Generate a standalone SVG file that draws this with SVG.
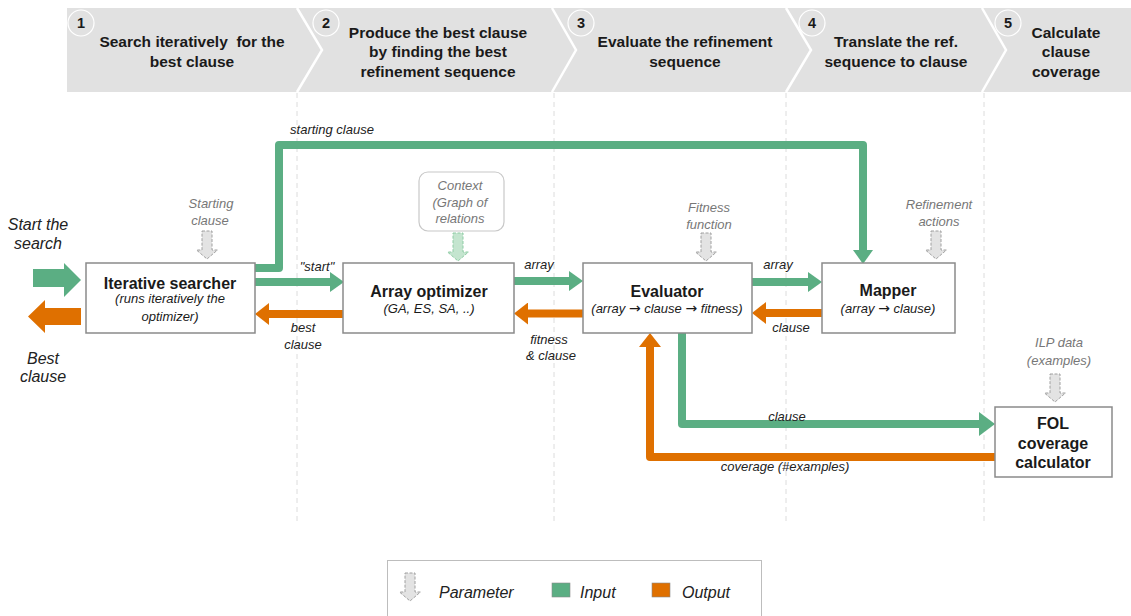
<svg xmlns="http://www.w3.org/2000/svg" width="1131" height="616" viewBox="0 0 1131 616">
  <style>
    text { font-family: "Liberation Sans", Arial, sans-serif; fill: #1a1a1a; }
    .hdr { font-size: 15.5px; font-weight: bold; text-anchor: middle; }
    .num { font-size: 14.5px; font-weight: bold; text-anchor: middle; }
    .title { font-size: 16px; font-weight: bold; text-anchor: middle; }
    .sub { font-size: 13px; font-style: italic; text-anchor: middle; }
    .arr { font-family: "DejaVu Sans", sans-serif; font-style: normal; font-size: 14px; }
    .lbl { font-size: 13px; font-style: italic; text-anchor: middle; fill: #222; }
    .param { font-size: 13px; font-style: italic; text-anchor: middle; fill: #777; }
    .big { font-size: 16px; font-style: italic; text-anchor: middle; fill: #222; }
    .leg { font-size: 16px; font-style: italic; fill: #222; }
    .box { fill: #fff; stroke: #8a8a8a; stroke-width: 1.5; }
    .in { fill: none; stroke: #5bae83; stroke-width: 8; stroke-linejoin: round; }
    .out { fill: none; stroke: #df7000; stroke-width: 8; stroke-linejoin: round; }
    .guide { stroke: #dcdcdc; stroke-width: 1; stroke-dasharray: 5 4; }
    .sep { fill: none; stroke: #fff; stroke-width: 2.5; }
    .circ { fill: none; stroke: #fff; stroke-width: 1.2; }
    .parg { fill: #e3e3e3; stroke: #a0a0a0; stroke-width: 1; stroke-dasharray: 3 1.5; }
  </style>
  <defs>
    <marker id="hIn" markerUnits="userSpaceOnUse" markerWidth="14" markerHeight="20" refX="0" refY="10" orient="auto">
      <path d="M0,0 L14,10 L0,20 Z" fill="#5bae83"/>
    </marker>
    <marker id="hInL" markerUnits="userSpaceOnUse" markerWidth="16" markerHeight="24" refX="0" refY="12" orient="auto">
      <path d="M0,0 L16,12 L0,24 Z" fill="#5bae83"/>
    </marker>
    <marker id="hOut" markerUnits="userSpaceOnUse" markerWidth="14" markerHeight="22" refX="0" refY="11" orient="auto">
      <path d="M0,0 L14,11 L0,22 Z" fill="#df7000"/>
    </marker>
    <!-- hollow down-arrow used for parameters -->
    <polygon id="paramArrow" points="-5,0 5,0 5,19 10.5,19 0,28 -10.5,19 -5,19"/>
  </defs>

  <!-- phase header band -->
  <g id="header">
    <rect x="67" y="8" width="1064" height="84" fill="#e1e1e1"/>
    <polyline class="sep" points="297,8 322,50 297,92"/>
    <polyline class="sep" points="552,8 576,50 552,92"/>
    <polyline class="sep" points="786,8 811,50 786,92"/>
    <polyline class="sep" points="982,8 1006,50 982,92"/>
    <circle class="circ" cx="81" cy="23" r="13"/>
    <circle class="circ" cx="326" cy="23" r="13"/>
    <circle class="circ" cx="581" cy="23" r="13"/>
    <circle class="circ" cx="812" cy="23" r="13"/>
    <circle class="circ" cx="1008" cy="23" r="13"/>
    <text class="num" x="81" y="28">1</text>
    <text class="num" x="326" y="28">2</text>
    <text class="num" x="581" y="28">3</text>
    <text class="num" x="812" y="28">4</text>
    <text class="num" x="1008" y="28">5</text>
    <text class="hdr" x="192" y="47" xml:space="preserve">Search iteratively  for the</text>
    <text class="hdr" x="192" y="67">best clause</text>
    <text class="hdr" x="438" y="38">Produce the best clause</text>
    <text class="hdr" x="438" y="57">by finding the best</text>
    <text class="hdr" x="438" y="77">refinement sequence</text>
    <text class="hdr" x="685" y="47">Evaluate the refinement</text>
    <text class="hdr" x="685" y="67">sequence</text>
    <text class="hdr" x="896" y="47">Translate the ref.</text>
    <text class="hdr" x="896" y="67">sequence to clause</text>
    <text class="hdr" x="1066" y="38">Calculate</text>
    <text class="hdr" x="1066" y="57">clause</text>
    <text class="hdr" x="1066" y="77">coverage</text>
  </g>

  <!-- phase guides -->
  <g id="guides">
    <line class="guide" x1="297" y1="93" x2="297" y2="525"/>
    <line class="guide" x1="554" y1="93" x2="554" y2="525"/>
    <line class="guide" x1="786" y1="93" x2="786" y2="525"/>
    <line class="guide" x1="984" y1="93" x2="984" y2="525"/>
  </g>

  <!-- connectors -->
  <g id="connectors">
    <polygon points="33,269 64,269 64,263 81,280 64,297 64,287 33,287" fill="#5bae83"/>
    <polygon points="81,308 45,308 45,300 28,316.5 45,333 45,325 81,325" fill="#df7000"/>
    <path class="in" d="M255,268 H279 V145 H863 V250" marker-end="url(#hIn)"/>
    <path class="in" d="M255,282 H330" marker-end="url(#hIn)"/>
    <path class="out" d="M343,314 H269" marker-end="url(#hOut)"/>
    <path class="in" d="M514,281 H569" marker-end="url(#hIn)"/>
    <path class="out" d="M583,313.5 H528" marker-end="url(#hOut)"/>
    <path class="in" d="M752,282 H808" marker-end="url(#hIn)"/>
    <path class="out" d="M822,313 H766" marker-end="url(#hOut)"/>
    <path class="in" d="M682,333 V424 H979" marker-end="url(#hInL)"/>
    <path class="out" d="M995,457 H650 V347" marker-end="url(#hOut)"/>

    <text class="lbl" x="332" y="134">starting clause</text>
    <text class="lbl" x="317" y="271">"start"</text>
    <text class="lbl" x="303" y="332">best</text>
    <text class="lbl" x="303" y="349">clause</text>
    <text class="lbl" x="539" y="269">array</text>
    <text class="lbl" x="549" y="344">fitness</text>
    <text class="lbl" x="551" y="360">&amp; clause</text>
    <text class="lbl" x="778" y="269">array</text>
    <text class="lbl" x="791" y="332">clause</text>
    <text class="lbl" x="787" y="421">clause</text>
    <text class="lbl" x="785" y="471">coverage (#examples)</text>
    <text class="big" x="38" y="230">Start the</text>
    <text class="big" x="38" y="249">search</text>
    <text class="big" x="43" y="364">Best</text>
    <text class="big" x="43" y="382">clause</text>
  </g>

  <!-- nodes -->
  <g id="iterative-searcher">
    <rect class="box" x="86" y="263" width="169" height="70"/>
    <text class="title" x="170" y="289">Iterative searcher</text>
    <text class="sub" x="170" y="303">(runs iteratively the</text>
    <text class="sub" x="170" y="321">optimizer)</text>
    <use href="#paramArrow" x="207" y="231" class="parg"/>
    <text class="param" x="211" y="208">Starting</text>
    <text class="param" x="210" y="225">clause</text>
  </g>

  <g id="array-optimizer">
    <rect class="box" x="343" y="263" width="171" height="70"/>
    <text class="title" x="429" y="297">Array optimizer</text>
    <text class="sub" x="429" y="313">(GA, ES, SA, ..)</text>
  </g>

  <g id="context">
    <rect x="419" y="172" width="85" height="59" rx="9" fill="#fff" stroke="#c8c8c8" stroke-width="1.2"/>
    <text class="param" x="460" y="190">Context</text>
    <text class="param" x="460" y="207">(Graph of</text>
    <text class="param" x="460" y="223">relations</text>
    <use href="#paramArrow" x="458" y="233" fill="#c4e5cf" stroke="#8fcca5" stroke-width="1" stroke-dasharray="3 1.5"/>
  </g>

  <g id="evaluator">
    <rect class="box" x="583" y="263" width="169" height="70"/>
    <text class="title" x="667" y="297">Evaluator</text>
    <text class="sub" x="667" y="313">(array <tspan class="arr">→</tspan> clause <tspan class="arr">→</tspan> fitness)</text>
    <use href="#paramArrow" x="706" y="233" class="parg"/>
    <text class="param" x="709" y="212">Fitness</text>
    <text class="param" x="709" y="229">function</text>
  </g>

  <g id="mapper">
    <rect class="box" x="822" y="263" width="133" height="70"/>
    <text class="title" x="888" y="296">Mapper</text>
    <text class="sub" x="888" y="313">(array <tspan class="arr">→</tspan> clause)</text>
    <use href="#paramArrow" x="936" y="231" class="parg"/>
    <text class="param" x="939" y="209">Refinement</text>
    <text class="param" x="939" y="226">actions</text>
  </g>

  <g id="fol-coverage">
    <rect class="box" x="995" y="407" width="117" height="70"/>
    <text class="title" x="1053" y="429">FOL</text>
    <text class="title" x="1053" y="449">coverage</text>
    <text class="title" x="1053" y="468">calculator</text>
    <use href="#paramArrow" x="1055" y="374" class="parg"/>
    <text class="param" x="1059" y="347">ILP data</text>
    <text class="param" x="1059" y="365">(examples)</text>
  </g>

  <!-- legend -->
  <g id="legend">
    <rect x="387.5" y="560.5" width="374" height="70" fill="#fff" stroke="#bdbdbd" stroke-width="1"/>
    <use href="#paramArrow" x="410" y="573" class="parg"/>
    <text class="leg" x="439" y="598">Parameter</text>
    <rect x="552" y="583" width="18" height="14" fill="#5bae83" stroke="#8a8a8a" stroke-width="0.6"/>
    <text class="leg" x="580" y="598">Input</text>
    <rect x="652" y="583" width="18" height="14" fill="#df7000" stroke="#8a8a8a" stroke-width="0.6"/>
    <text class="leg" x="682" y="598">Output</text>
  </g>
</svg>
